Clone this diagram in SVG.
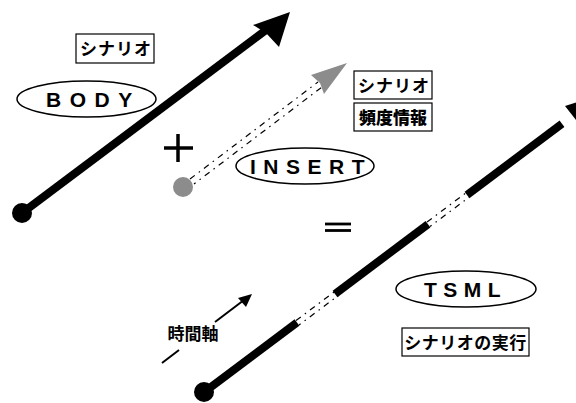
<svg xmlns="http://www.w3.org/2000/svg" width="576" height="403" viewBox="0 0 576 403">
<style>
.box{fill:#fff;stroke:#000;stroke-width:1.2}
.ell{fill:#fff;stroke:#000;stroke-width:1.5}
.jp{font-family:"Liberation Sans","Noto Sans CJK JP",sans-serif;font-weight:bold;font-size:17px;fill:#000}
.lat{font-family:"Liberation Sans",Arial,sans-serif;font-weight:bold;font-size:21px;fill:#000}
.thick{stroke:#000;stroke-width:8;fill:none}
.dash{stroke:#000;stroke-width:1.2;fill:none;stroke-dasharray:6 5 1.5 5}
</style>
<rect width="576" height="403" fill="#fff"/>
<g id="connectors">
  <!-- BODY arrow -->
  <line class="thick" x1="22" y1="213" x2="266" y2="30"/>
  <polygon points="290,12 253,25 266,33 279,47" fill="#000"/>
  <circle cx="22" cy="213" r="10" fill="#000"/>
  <!-- INSERT dashed arrow -->
  <line class="dash" x1="190" y1="179" x2="318" y2="82"/>
  <line class="dash" x1="194" y1="184" x2="322" y2="87" stroke-dashoffset="4"/>
  <polygon points="347,63 311,75 320,83 324,94" fill="#8c8c8c"/>
  <circle cx="183" cy="187" r="10" fill="#8c8c8c"/>
  <!-- TSML line -->
  <line class="thick" x1="203" y1="393" x2="297" y2="322.5"/>
  <line class="dash" x1="296" y1="320.5" x2="336" y2="290.5"/>
  <line class="dash" x1="299" y1="325" x2="339" y2="295" stroke-dashoffset="4"/>
  <line class="thick" x1="335" y1="294" x2="428" y2="224.2"/>
  <line class="dash" x1="427" y1="222" x2="466" y2="192.8"/>
  <line class="dash" x1="430" y1="226.5" x2="469" y2="197.3" stroke-dashoffset="4"/>
  <line class="thick" x1="467" y1="195" x2="562" y2="123.8"/>
  <polygon points="600,95 565,106 580,125" fill="#000"/>
  <circle cx="204" cy="392" r="10" fill="#000"/>
  <!-- time axis arrow -->
  <line x1="215" y1="322" x2="244" y2="300" stroke="#000" stroke-width="2"/>
  <polygon points="252,294 238,298 246,307" fill="#000"/>
  <line x1="162" y1="363" x2="179" y2="350" stroke="#000" stroke-width="2"/>
  <!-- plus -->
  <line x1="164" y1="148" x2="193" y2="148" stroke="#000" stroke-width="3.5"/>
  <line x1="178" y1="134" x2="178" y2="162" stroke="#000" stroke-width="3.5"/>
  <!-- equals -->
  <line x1="325" y1="224" x2="351" y2="224" stroke="#000" stroke-width="2.8"/>
  <line x1="325" y1="230.5" x2="351" y2="230.5" stroke="#000" stroke-width="2.8"/>
</g>
<g id="body-scenario">
  <rect class="box" x="76" y="34" width="78" height="29"/>
  <text class="jp" x="116" y="55" text-anchor="middle" letter-spacing="1">シナリオ</text>
</g>
<g id="body">
  <ellipse class="ell" cx="86.5" cy="99" rx="69.5" ry="18"/>
  <text class="lat" x="46" y="106.5" letter-spacing="8.5">BODY</text>
</g>
<g id="insert-scenario">
  <rect class="box" x="354" y="71" width="78" height="28"/>
  <text class="jp" x="394" y="91.5" text-anchor="middle" letter-spacing="1">シナリオ</text>
</g>
<g id="insert-freq">
  <rect class="box" x="354" y="103" width="78" height="28"/>
  <text class="jp" x="393" y="123.5" text-anchor="middle" style="font-weight:900">頻度情報</text>
</g>
<g id="insert">
  <ellipse class="ell" cx="305" cy="166" rx="69" ry="18"/>
  <text class="lat" x="250" y="173.5" letter-spacing="7.5">INSERT</text>
</g>
<g id="tsml">
  <ellipse class="ell" cx="466" cy="289" rx="70" ry="18"/>
  <text class="lat" x="424" y="296.5" letter-spacing="6.5">TSML</text>
</g>
<g id="tsml-exec">
  <rect class="box" x="402" y="328" width="127" height="28"/>
  <text class="jp" x="465.5" y="348.5" text-anchor="middle" letter-spacing="0.5">シナリオの実行</text>
</g>
<g id="time-axis-label">
  <text class="jp" x="193" y="340" text-anchor="middle">時間軸</text>
</g>
</svg>
